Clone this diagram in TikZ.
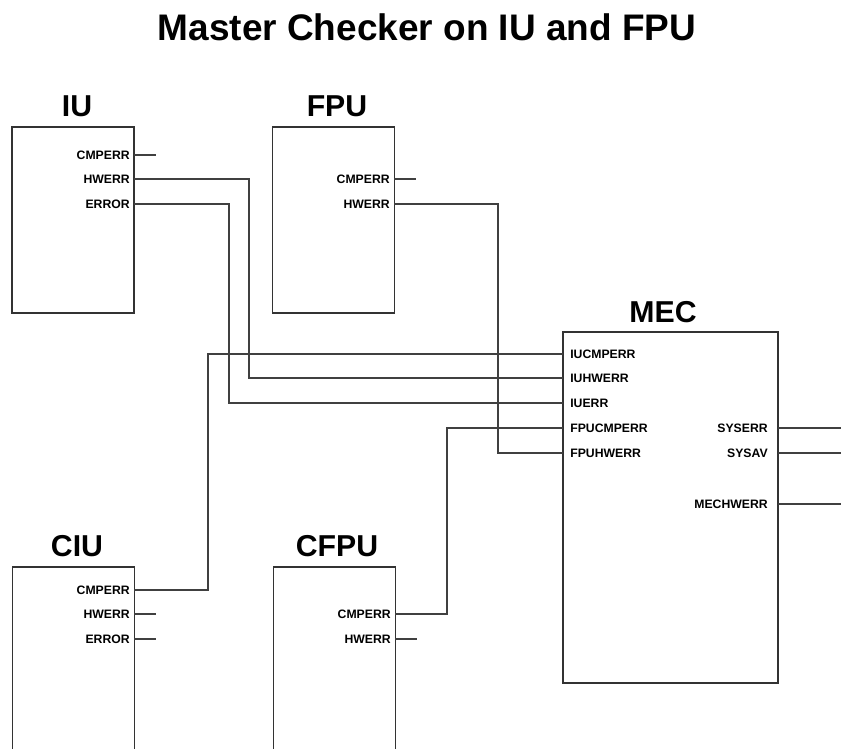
\documentclass[tikz,border=0pt]{standalone}
\usepackage{fontspec}
\setmainfont{Liberation Sans}
\usepackage{tikz}
\usetikzlibrary{positioning}
\tikzset{unit/.style={rectangle,draw=black!80,line width=0.8pt,minimum width=3.05cm,minimum height=4.65cm},
  unitname/.style={anchor=base,inner sep=0pt,font=\bfseries\fontsize{21.5}{24}\selectfont},
  outport/.style={anchor=east,inner xsep=0.1cm,inner ysep=0pt,font=\bfseries\fontsize{8.7}{10}\selectfont},
  inport/.style={anchor=west,inner xsep=0.175cm,inner ysep=0pt,font=\bfseries\fontsize{8.7}{10}\selectfont},
  wire/.style={draw=black!75,line width=0.75pt}}

\begin{document}
\begin{tikzpicture}[x=0.025cm,y=-0.025cm]
    \clip (0,0) rectangle (841,749);
    \node[anchor=base,inner sep=0pt,font=\bfseries\fontsize{26.3}{30}\selectfont] (title) at (427,41) {Master Checker on IU and FPU};

    \node[unit] (iu) at (73,220) {};
    \node[unit] (fpu) at (333.5,220) {};
    \node[unit,minimum width=5.375cm,minimum height=8.775cm] (mec) at (670.5,507.5) {};
    \node[unit,minimum height=7.5cm] (ciu) at (73.5,717) {};
    \node[unit,minimum height=7.5cm] (cfpu) at (334.5,717) {};

    \node[unitname] (iuname) at (77,116) {IU};
    \node[unitname] (fpuname) at (337,116) {FPU};
    \node[unitname] (mecname) at (663,322) {MEC};
    \node[unitname] (ciuname) at (77,556) {CIU};
    \node[unitname] (cfpuname) at (337,556) {CFPU};

    \node[outport] (iucmp) at (134,155) {CMPERR};
    \node[outport] (iuhw) at (134,179) {HWERR};
    \node[outport] (iuerr) at (134,204) {ERROR};
    \node[outport] (fpucmp) at (394,179) {CMPERR};
    \node[outport] (fpuhw) at (394,204) {HWERR};
    \node[outport] (ciucmp) at (134,590) {CMPERR};
    \node[outport] (ciuhw) at (134,614) {HWERR};
    \node[outport] (ciuerr) at (134,639) {ERROR};
    \node[outport] (cfpucmp) at (395,614) {CMPERR};
    \node[outport] (cfpuhw) at (395,639) {HWERR};

    \node[inport] (mecicmp) at (563,354) {IUCMPERR};
    \node[inport] (mecihw) at (563,378) {IUHWERR};
    \node[inport] (mecierr) at (563,403) {IUERR};
    \node[inport] (mecfcmp) at (563,428) {FPUCMPERR};
    \node[inport] (mecfhw) at (563,453) {FPUHWERR};
    \node[outport,inner xsep=0.25cm] (mecsyserr) at (778,428) {SYSERR};
    \node[outport,inner xsep=0.25cm] (mecsysav) at (778,453) {SYSAV};
    \node[outport,inner xsep=0.25cm] (mechw) at (778,504) {MECHWERR};

    \draw[wire] (iucmp.east) -- ++(22,0);
    \draw[wire] (iuhw.east) -- ++(115,0) |- (mecihw.west);
    \draw[wire] (iuerr.east) -- ++(95,0) |- (mecierr.west);
    \draw[wire] (fpucmp.east) -- ++(22,0);
    \draw[wire] (fpuhw.east) -- ++(104,0) |- (mecfhw.west);
    \draw[wire] (ciucmp.east) -- ++(74,0) |- (mecicmp.west);
    \draw[wire] (ciuhw.east) -- ++(22,0);
    \draw[wire] (ciuerr.east) -- ++(22,0);
    \draw[wire] (cfpucmp.east) -- ++(52,0) |- (mecfcmp.west);
    \draw[wire] (cfpuhw.east) -- ++(22,0);

    \draw[wire] (mecsyserr.east) -- ++(63,0);
    \draw[wire] (mecsysav.east) -- ++(63,0);
    \draw[wire] (mechw.east) -- ++(63,0);
\end{tikzpicture}
\end{document}
